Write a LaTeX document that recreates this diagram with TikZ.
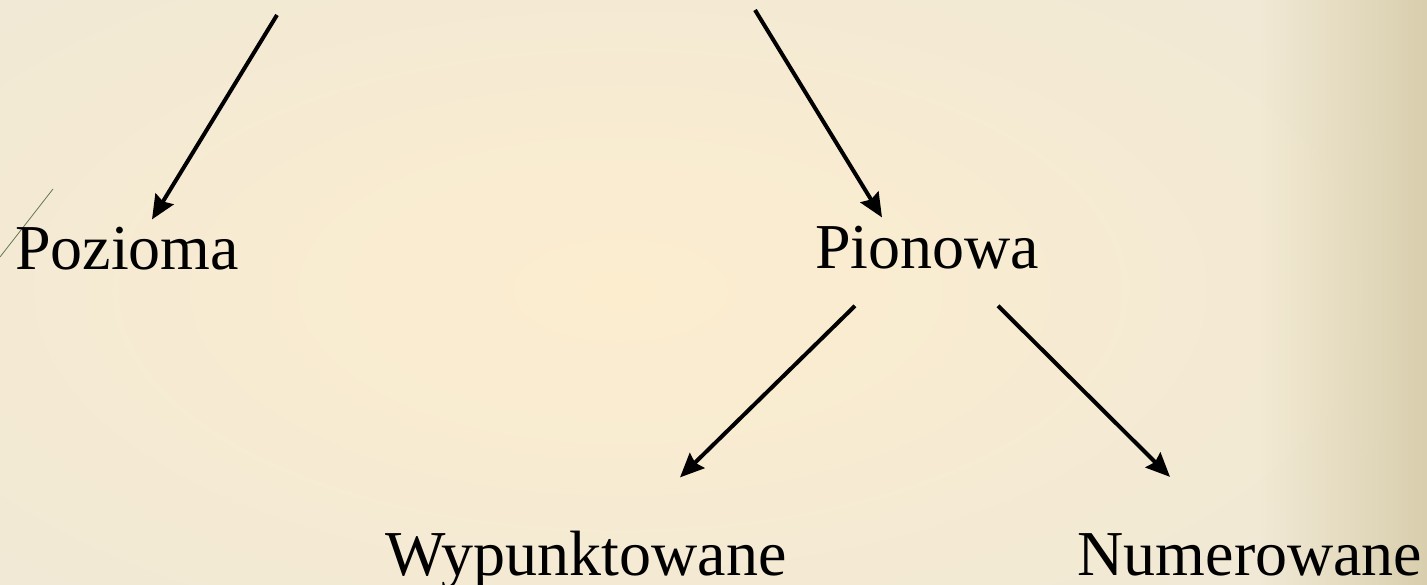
\documentclass[tikz,border=0pt]{standalone}
\usepackage{fontspec}
\setmainfont{Liberation Serif}
\usetikzlibrary{arrows.meta,calc,fadings}

\definecolor{bgcentre}{HTML}{FCEDCF}
\definecolor{bgouter}{HTML}{F1E9D5}
\definecolor{bgedge}{HTML}{D9CFAE}
\definecolor{slash}{HTML}{647556}

\tikzfading[name=towardsright, left color=transparent!100, right color=transparent!0]

\tikzset{
  label/.style={font=\fontsize{64}{70}\selectfont, inner sep=0pt, anchor=base, text=black},
  arr/.style={line width=4pt, -{Stealth[length=24pt,width=21pt,inset=3pt]}},
}

\begin{document}
\begin{tikzpicture}[x=1pt,y=-1pt]
  % page background: soft warm glow, darker band on the right
  \useasboundingbox (0,0) rectangle (1427,585);
  \fill[bgouter] (0,0) rectangle (1427,585);
  \begin{scope}
    \clip (0,0) rectangle (1427,585);
    \shade[inner color=bgcentre, outer color=bgouter] (-240,-120) rectangle (1480,700);
  \end{scope}
  \fill[bgedge, path fading=towardsright] (1260,0) rectangle (1427,585);

  % thin decorative stroke at the left edge
  \draw[slash, line width=0.8pt] (0,257) -- (53,189);

  % labels
  \node[label] (poz) at (127,270) {Pozioma};
  \node[label] (pio) at (927,269) {Pionowa};
  \node[label] (wyp) at (586,575) {Wypunktowane};
  \node[label] (num) at (1250,575) {Numerowane};

  % free ends of the incoming arrows
  \coordinate (in1) at (277,15);
  \coordinate (in2) at (755,10);

  % connectors
  \draw[arr] (in1) -- ($(poz.north)+(25,-8)$);
  \draw[arr] (in2) -- ($(pio.north)+(-45,-9)$);
  \draw[arr] ($(pio.south)+(-72,36)$) -- ($(wyp.north)+(94,-53)$);
  \draw[arr] ($(pio.south)+(71,36)$) -- ($(num.north)+(-80,-56)$);
\end{tikzpicture}
\end{document}
